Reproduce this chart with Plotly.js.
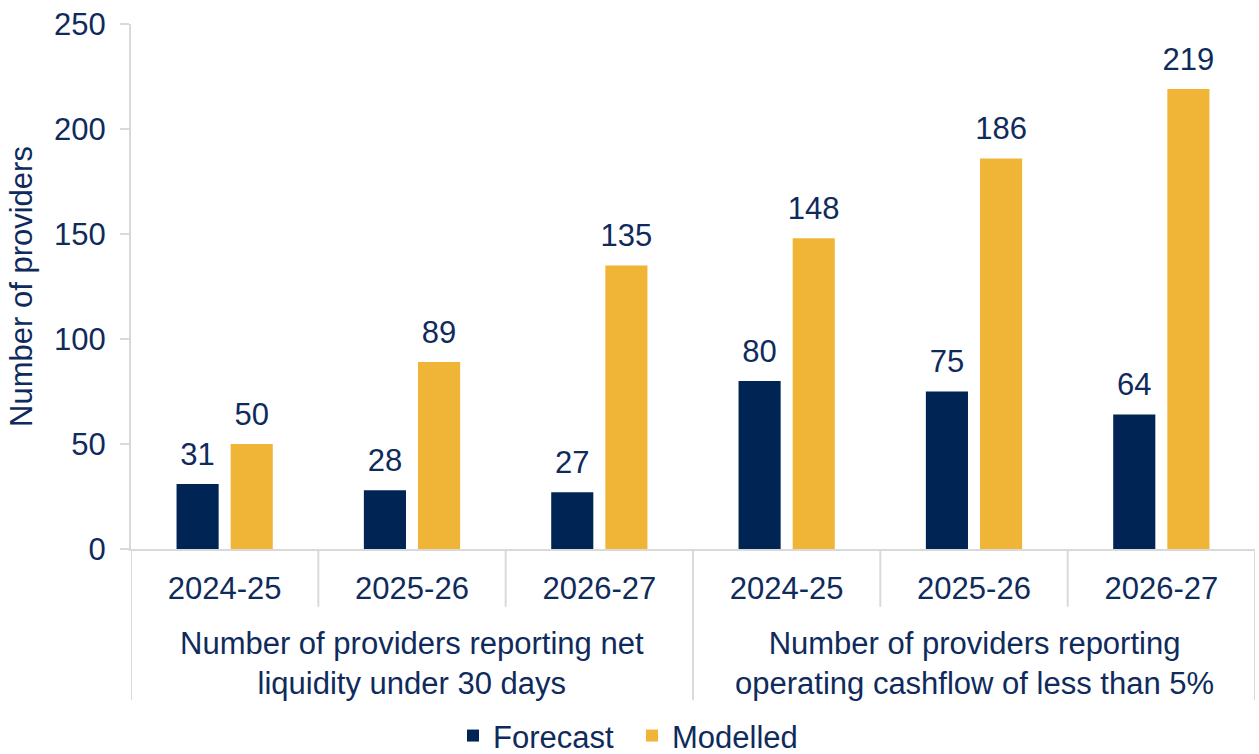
<!DOCTYPE html>
<html><head><meta charset="utf-8">
<script src="https://cdn.plot.ly/plotly-3.0.1.min.js"></script>
<style>html,body{margin:0;padding:0;background:#fff}</style>
</head><body>
<div id="chart" style="width:1259px;height:754px"></div>
<script>
const groupLabels = [
  "Number of providers reporting net<br>liquidity under 30 days",
  "Number of providers reporting<br>operating cashflow of less than 5%"
];
const years = ["2024-25", "2025-26", "2026-27"];
const forecast = [31, 28, 27, 80, 75, 64];
const modelled = [50, 89, 135, 148, 186, 219];
const seriesNames = ["Forecast", "Modelled"];

// tick labels: each year under each group
const tickLabels = [];
groupLabels.forEach(() => years.forEach(y => tickLabels.push(y)));
const xIdx = tickLabels.map((_, i) => i);

const navy = "#002554";
const gold = "#f0b537";
const textCol = "#0f2b5c";
const gridCol = "#d9d9d9";
const font = "Liberation Sans, Arial, sans-serif";

const labelTrace = (vals) => ({
  type: "scatter", mode: "markers+text", x: xIdx, y: vals, text: vals.map(String),
  textposition: "top center", marker: {size: 17, opacity: 0}, showlegend: false,
  textfont: {size: 31, color: textCol, family: font}, hoverinfo: "skip", cliponaxis: false
});

const traces = [
  {type: "bar", name: seriesNames[0], x: xIdx, y: forecast, marker: {color: navy}, hoverinfo: "y"},
  {type: "bar", name: seriesNames[1], x: xIdx, y: modelled, marker: {color: gold}, hoverinfo: "y"},
  labelTrace(forecast),
  labelTrace(modelled)
];

// divider lines between categories (short) and between groups (long)
const shapes = [];
const nPer = years.length;
for (let b = 0; b <= tickLabels.length; b++) {
  const isGroup = b % nPer === 0;
  shapes.push({type: "line", xref: "x", yref: "paper", x0: b - 0.5, x1: b - 0.5,
    y0: 0, y1: isGroup ? -0.288 : -0.11, line: {color: gridCol, width: 2}, layer: "below"});
}
const annotations = groupLabels.map((g, gi) => ({
  text: g, xref: "x", yref: "paper", x: gi * nPer + (nPer - 1) / 2, y: -0.219,
  xanchor: "center", yanchor: "middle", showarrow: false,
  font: {size: 31, color: textCol, family: font}
}));

const layout = {
  width: 1259, height: 754,
  margin: {l: 131, r: 4, t: 24, b: 205},
  paper_bgcolor: "#fff", plot_bgcolor: "#fff",
  font: {family: font, size: 31, color: textCol},
  barmode: "group", bargap: 0.422, bargroupgap: 0.222,
  scattermode: "group", scattergap: 0.422,
  showlegend: true,
  legend: {orientation: "h", x: 0.2865, xanchor: "left", yref: "container", y: 0.024, yanchor: "middle",
           entrywidth: 134, entrywidthmode: "pixels",
           font: {size: 31, color: textCol}, traceorder: "normal"},
  shapes: shapes,
  annotations: annotations,
  xaxis: {type: "linear", range: [-0.5, tickLabels.length - 0.5], automargin: false,
          tickmode: "array", tickvals: xIdx, ticktext: tickLabels, ticks: "",
          showline: true, linecolor: gridCol, linewidth: 2, ticklabelstandoff: 11,
          showgrid: false, zeroline: false, tickfont: {size: 31, color: textCol}},
  yaxis: {range: [0, 250], dtick: 50, showline: true, linecolor: gridCol, linewidth: 2,
          automargin: false,
          ticks: "outside", ticklen: 9, tickcolor: gridCol, tickwidth: 2,
          showgrid: false, zeroline: false, ticklabelstandoff: 8,
          tickfont: {size: 31, color: textCol},
          title: {text: "Number of providers", font: {size: 31, color: textCol}, standoff: 12}}
};

Plotly.newPlot("chart", traces, layout, {displayModeBar: false, staticPlot: true});
</script>
</body></html>
